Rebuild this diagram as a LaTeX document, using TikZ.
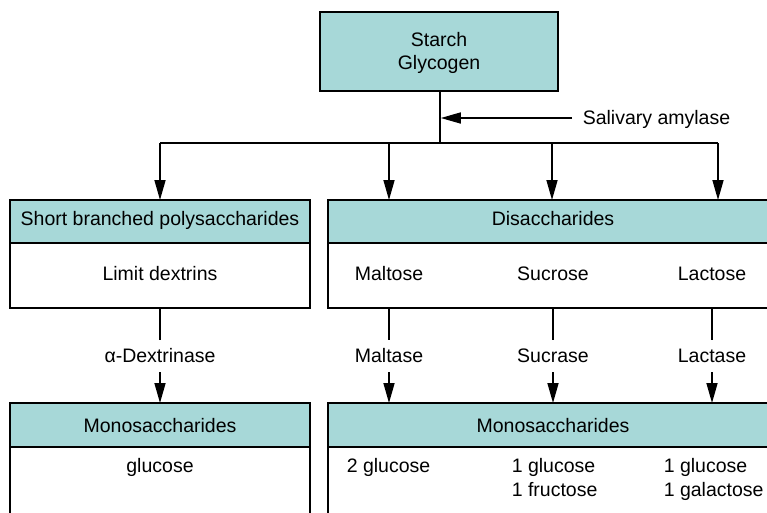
\documentclass[tikz,border=0pt]{standalone}
\usepackage{fontspec}
\setmainfont{Liberation Sans}
\usetikzlibrary{arrows.meta}
\definecolor{tealbox}{HTML}{A7D8D8}
\begin{document}
\begin{tikzpicture}[x=1pt,y=-1pt,
  font=\fontsize{19.5}{24}\selectfont,
  line width=1.6pt,
  hdr/.style={draw, fill=tealbox, inner sep=0pt, outer sep=0pt},
  bodybox/.style={draw, fill=white, inner sep=0pt, outer sep=0pt},
  txt/.style={anchor=base, inner sep=0pt},
  arr/.style={-{Triangle[length=20pt,width=11pt]}},
]
\useasboundingbox (0,0) rectangle (767,512);
\clip (0,0) rectangle (767,512);

% top box
\node[hdr, minimum width=238pt, minimum height=79pt] (starch) at (439,51.5) {};
\node[txt] (tstarch) at (439,46) {Starch};
\node[txt] (tglyc) at (439,69) {Glycogen};

% second row boxes
\node[hdr, minimum width=300pt, minimum height=43pt] (sbh) at (160,221.5) {};
\node[bodybox, minimum width=300pt, minimum height=65pt] (sbb) at (160,275.5) {};
\node[hdr, minimum width=450pt, minimum height=43pt] (dih) at (553,221.5) {};
\node[bodybox, minimum width=450pt, minimum height=65pt] (dib) at (553,275.5) {};

\node[txt] (tsb) at (160,225) {Short branched polysaccharides};
\node[txt] (tld) at (160,280) {Limit dextrins};
\node[txt] (tdi) at (553,225) {Disaccharides};
\node[txt] (tmal) at (389,280) {Maltose};
\node[txt] (tsuc) at (553,280) {Sucrose};
\node[txt] (tlac) at (712,280) {Lactose};

% third row boxes
\node[hdr, minimum width=300pt, minimum height=44pt] (mlh) at (160,425) {};
\node[bodybox, minimum width=300pt, minimum height=153pt] (mlb) at (160,523.5) {};
\node[hdr, minimum width=450pt, minimum height=44pt] (mrh) at (553,425) {};
\node[bodybox, minimum width=450pt, minimum height=153pt] (mrb) at (553,523.5) {};

\node[txt] (tml) at (160,432) {Monosaccharides};
\node[txt] (tglu) at (160,472) {glucose};
\node[txt] (tmr) at (553,432) {Monosaccharides};
\node[txt] (t2g) at (388.5,472) {2 glucose};
\node[txt, anchor=base west] (t1g) at (511,472) {1 glucose};
\node[txt, anchor=base west] (t1f) at (511,496) {1 fructose};
\node[txt, anchor=base west] (t1g2) at (663,472) {1 glucose};
\node[txt, anchor=base west] (t1ga) at (663,496) {1 galactose};

% splitting connectors
\coordinate (split) at (440,143);
\coordinate (b1) at (160,143);
\coordinate (b2) at (389,143);
\coordinate (b3) at (552,143);
\coordinate (b4) at (718,143);
\draw (starch.south -| split) -- (split);
\draw (b1) -- (b4);
\draw[arr] (b1) -- (b1 |- sbh.north);
\draw[arr] (b2) -- (b2 |- dih.north);
\draw[arr] (b3) -- (b3 |- dih.north);
\draw[arr] (b4) -- (b4 |- dih.north);

% salivary amylase
\node[txt, anchor=base west] (tsal) at (582,124) {Salivary amylase};
\coordinate (salstart) at (572,118);
\coordinate (salend) at (440.8,118);
\draw[arr] (salstart) -- (salend);

% enzyme connectors
\node[txt] (tadx) at (160,362) {α-Dextrinase};
\node[txt] (tmaltase) at (389,362) {Maltase};
\node[txt] (tsucrase) at (553,362) {Sucrase};
\node[txt] (tlactase) at (712,362) {Lactase};

\foreach \n/\xx in {a/160, b/389, c/553, d/712} {
  \coordinate (u\n) at (\xx,307);
  \coordinate (v\n) at (\xx,340);
  \coordinate (w\n) at (\xx,372);
  \coordinate (z\n) at (\xx,403);
  \draw (u\n) -- (v\n);
  \draw[arr] (w\n) -- (z\n);
}
\end{tikzpicture}
\end{document}
